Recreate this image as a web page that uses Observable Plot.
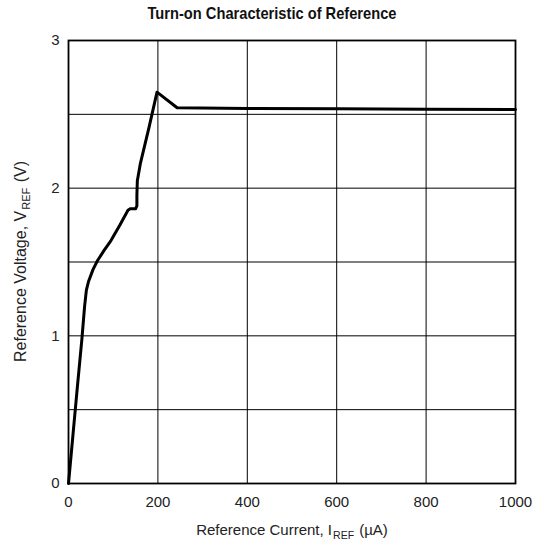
<!DOCTYPE html>
<html>
<head>
<meta charset="utf-8">
<script src="https://cdn.jsdelivr.net/npm/d3@7"></script>
<script src="https://cdn.jsdelivr.net/npm/@observablehq/plot@0.6"></script>
<style>
  body { margin: 0; background: #fff; }
  #chart svg { display: block; }
</style>
</head>
<body>
<div id="chart"></div>
<script>
const titleText = "Turn-on Characteristic of Reference";
const currentUA = [0, 10, 20, 30, 36, 40, 45, 55, 65, 80, 95, 115, 133, 138, 150, 153, 153, 154, 161, 180, 198, 243, 400, 600, 800, 1000];
const voltageV  = [0, 0.33, 0.66, 0.98, 1.2, 1.31, 1.37, 1.45, 1.51, 1.58, 1.645, 1.75, 1.85, 1.86, 1.86, 1.88, 1.95, 2.05, 2.17, 2.41, 2.65, 2.545, 2.54, 2.537, 2.535, 2.532];
const xTicks = [0, 200, 400, 600, 800, 1000];
const yTicks = [0, 1, 2, 3];
const xGrid = [200, 400, 600, 800];
const yGrid = [0.5, 1, 1.5, 2, 2.5];

const data = currentUA.map((x, i) => ({x, y: voltageV[i]}));
const font = "'Liberation Sans', Arial, sans-serif";

const chart = Plot.plot({
  width: 544,
  height: 550,
  marginLeft: 68,
  marginRight: 29,
  marginTop: 40,
  marginBottom: 67,
  style: {fontFamily: font, fontSize: "15px", color: "#222", background: "#fff"},
  x: {domain: [0, 1000], ticks: xTicks, tickFormat: d => String(d), tickSize: 0, tickPadding: 13, label: null},
  y: {domain: [0, 3], ticks: yTicks, tickFormat: d => String(d), tickSize: 0, tickPadding: 9, label: null},
  marks: [
    Plot.ruleX(xGrid, {stroke: "#000", strokeWidth: 1}),
    Plot.ruleY(yGrid, {stroke: "#000", strokeWidth: 1}),
    Plot.frame({stroke: "#000", strokeWidth: 1.8}),
    Plot.line(data, {x: "x", y: "y", stroke: "#000", strokeWidth: 3, strokeLinejoin: "round", strokeLinecap: "round"})
  ]
});

const svg = d3.select(chart);
// title
svg.append("text")
  .attr("x", 272).attr("y", 19)
  .attr("text-anchor", "middle")
  .attr("fill", "#111")
  .attr("textLength", 249).attr("lengthAdjust", "spacingAndGlyphs")
  .style("font-family", font).style("font-size", "17px").style("font-weight", "bold")
  .text(titleText);

// x axis label with subscript
const xl = svg.append("text")
  .attr("x", 292).attr("y", 535)
  .attr("text-anchor", "middle")
  .attr("fill", "#222")
  .style("font-family", font).style("font-size", "15px");
xl.append("tspan").text("Reference Current, I");
xl.append("tspan").attr("dx", 1).attr("dy", 4).style("font-size", "10.5px").text("REF");
xl.append("tspan").attr("dx", 1).attr("dy", -4).text(" (\u00B5A)");

// y axis label with subscript
const yl = svg.append("text")
  .attr("transform", "translate(26,261.5) rotate(-90)")
  .attr("text-anchor", "middle")
  .attr("fill", "#222")
  .style("font-family", font).style("font-size", "16px");
yl.append("tspan").text("Reference Voltage, V");
yl.append("tspan").attr("dx", 1).attr("dy", 4).style("font-size", "11px").text("REF");
yl.append("tspan").attr("dx", 1).attr("dy", -4).text(" (V)");

document.getElementById("chart").appendChild(chart);
</script>
</body>
</html>
